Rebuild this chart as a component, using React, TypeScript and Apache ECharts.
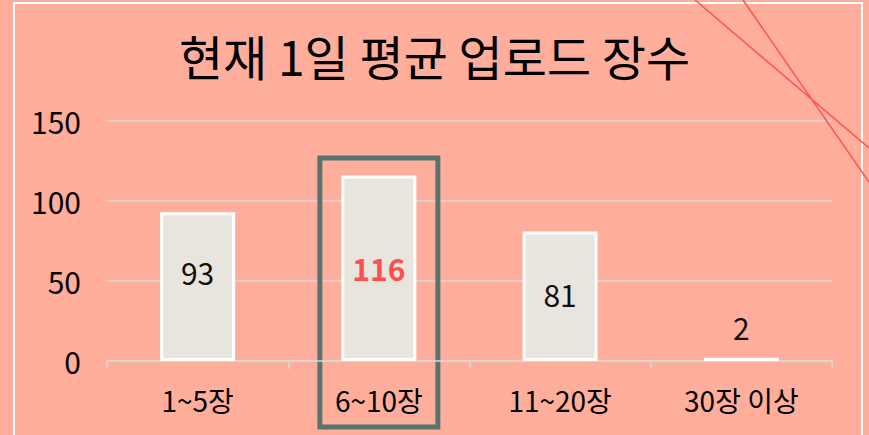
import React, { useEffect, useRef } from "react";
import * as echarts from "echarts";

const titleText = "현재 1일 평균 업로드 장수";
const categories = ["1~5장", "6~10장", "11~20장", "30장 이상"];
const values = [93, 116, 81, 2];
const labelOffsets = [-15, 0, -2, 0];
const yTicks = [0, 50, 100, 150];
const highlightIndex = 1;

const BG = "#FFAE9C";
const BAR = "#E8E4DE";
const GRID = "#D9D9D9";
const FONT = "'Noto Sans CJK KR', 'Noto Sans', sans-serif";

export default function App() {
  const ref = useRef<HTMLDivElement>(null);
  useEffect(() => {
    if (!ref.current) return;
    const chart = echarts.init(ref.current, undefined, { renderer: "svg" });
    const data = values.map((v, i) => {
      const small = v < 10;
      return {
        value: v,
        label: {
          show: true,
          position: small ? "top" : "inside",
          distance: small ? 16 : 5,
          offset: [0, labelOffsets[i]],
          color: i === highlightIndex ? "#FF4F4F" : "#111",
          fontWeight: i === highlightIndex ? "bold" : "normal",
          fontSize: 30,
          fontFamily: FONT,
        },
      };
    });
    chart.setOption({
      animation: false,
      backgroundColor: BG,
      title: {
        text: titleText,
        left: "center",
        top: 26,
        textStyle: { fontSize: 48, fontWeight: "normal", color: "#000", fontFamily: FONT },
      },
      grid: { left: 107, right: 37, top: 121, bottom: 74, containLabel: false },
      xAxis: {
        type: "category",
        data: categories,
        axisLine: { show: true, lineStyle: { color: GRID, width: 1.5 } },
        axisTick: { show: true, length: 8, lineStyle: { color: GRID, width: 1.5 } },
        axisLabel: { fontSize: 28, color: "#000", fontFamily: FONT, margin: 25 },
      },
      yAxis: {
        type: "value",
        min: yTicks[0],
        max: yTicks[yTicks.length - 1],
        interval: 50,
        axisLine: { show: false },
        axisTick: { show: false },
        axisLabel: { fontSize: 30, color: "#000", fontFamily: FONT, margin: 26 },
        splitLine: { lineStyle: { color: GRID, width: 1.5 } },
      },
      series: [
        {
          type: "bar",
          data,
          barWidth: 75,
          itemStyle: { color: BAR, borderColor: "#FFFFFF", borderWidth: 3 },
        },
      ],
    });

    const cx = chart.convertToPixel({ xAxisIndex: 0 }, categories[highlightIndex]) as number;
    const hw = 59;
    chart.setOption({
      graphic: [
        {
          type: "rect",
          shape: { x: 14, y: 3, width: 848, height: 450 },
          style: { fill: "none", stroke: "#FFFFFF", lineWidth: 2 },
          silent: true,
        },
        {
          type: "line",
          shape: { x1: 695, y1: 0, x2: 869, y2: 148 },
          style: { stroke: "#FF5252", lineWidth: 1.5 },
          silent: true,
        },
        {
          type: "line",
          shape: { x1: 743, y1: 0, x2: 869, y2: 182 },
          style: { stroke: "#FF5252", lineWidth: 1.5 },
          silent: true,
        },
        {
          type: "rect",
          shape: { x: cx - hw, y: 158, width: hw * 2, height: 269 },
          style: { fill: "none", stroke: "#57756E", lineWidth: 5 },
          silent: true,
        },
      ],
    });
    return () => chart.dispose();
  }, []);
  return (
    <div
      ref={ref}
      style={{ width: 869, height: 435, position: "fixed", left: 0, top: 0 }}
    />
  );
}
